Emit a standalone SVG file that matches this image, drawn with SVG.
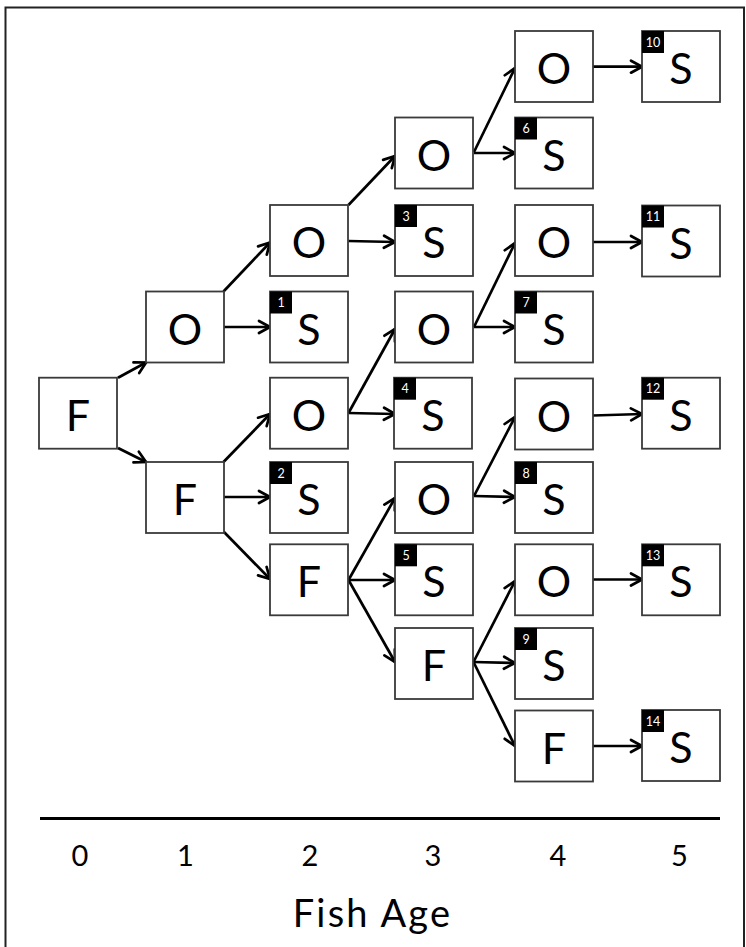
<svg xmlns="http://www.w3.org/2000/svg" width="746" height="947" viewBox="0 0 746 947">
<defs>
<marker id="ah" markerUnits="userSpaceOnUse" viewBox="-14 -8 16 16" markerWidth="16" markerHeight="16" refX="0" refY="0" orient="auto">
<path d="M-11,-6 L0,0 L-11,6" fill="none" stroke="#000" stroke-width="2.7" stroke-linejoin="miter" stroke-linecap="round"/>
</marker>
</defs>
<style>
.box{fill:#fff;stroke:#3a3a3a;stroke-width:1.8}
.lbl{font-family:Lato,"Liberation Sans",sans-serif;font-size:43px;fill:#000;text-anchor:middle}
.bdg{fill:#000}
.num{font-family:Lato,"Liberation Sans",sans-serif;font-size:12.5px;fill:#fff;text-anchor:middle}
.c line{stroke:#000;stroke-width:2.7;marker-end:url(#ah)}
.ax{font-family:Lato,"Liberation Sans",sans-serif;font-size:29px;fill:#000;text-anchor:middle}
</style>
<rect x="0" y="0" width="746" height="947" fill="#fff"/>
<rect x="5.5" y="7.5" width="738.5" height="960" fill="none" stroke="#222" stroke-width="2"/>

<g id="connectors" class="c">
<line x1="118" y1="377.7" x2="146" y2="362.5"/>
<line x1="118" y1="448" x2="146" y2="462"/>
<line x1="223.5" y1="291.5" x2="270" y2="242.5"/>
<line x1="223.5" y1="327" x2="270" y2="327"/>
<line x1="223.5" y1="462" x2="270" y2="414"/>
<line x1="223.5" y1="497" x2="270" y2="497"/>
<line x1="223.5" y1="531.5" x2="270" y2="579"/>
<line x1="348.5" y1="205" x2="395" y2="156"/>
<line x1="348.5" y1="241" x2="395" y2="242"/>
<line x1="348.5" y1="413" x2="395" y2="329"/>
<line x1="348.5" y1="413" x2="395" y2="414"/>
<line x1="348.5" y1="580" x2="395" y2="498"/>
<line x1="348.5" y1="580" x2="395" y2="580"/>
<line x1="348.5" y1="580" x2="395" y2="662"/>
<line x1="474" y1="152" x2="515" y2="68"/>
<line x1="474" y1="153" x2="515" y2="153"/>
<line x1="474" y1="327" x2="515" y2="243"/>
<line x1="474" y1="327" x2="515" y2="327"/>
<line x1="474" y1="496" x2="515" y2="417"/>
<line x1="474" y1="496" x2="515" y2="497"/>
<line x1="473.5" y1="662" x2="515" y2="581"/>
<line x1="473.5" y1="662" x2="515" y2="663"/>
<line x1="473.5" y1="662" x2="515" y2="746"/>
<line x1="593" y1="66.7" x2="642" y2="66.7"/>
<line x1="593" y1="242" x2="642" y2="242"/>
<line x1="593" y1="415.5" x2="642" y2="414"/>
<line x1="593" y1="579.5" x2="642" y2="579.5"/>
<line x1="593" y1="746" x2="642" y2="746"/>
</g>

<g id="n_c0_F" transform="translate(39,377.7)"><rect class="box" width="78" height="71"/><text class="lbl" x="39" y="53">F</text></g>

<g id="n_c1_O" transform="translate(146,291.5)"><rect class="box" width="78" height="71"/><text class="lbl" x="39" y="53">O</text></g>
<g id="n_c1_F" transform="translate(146,462)"><rect class="box" width="78" height="71"/><text class="lbl" x="39" y="53">F</text></g>

<g id="n_c2_O1" transform="translate(270,205)"><rect class="box" width="78" height="71"/><text class="lbl" x="39" y="53">O</text></g>
<g id="n_S1" transform="translate(270,291.5)"><rect class="box" width="78" height="71"/><text class="lbl" x="39" y="53">S</text><rect class="bdg" width="22" height="22"/><text class="num" x="11" y="15.5">1</text></g>
<g id="n_c2_O2" transform="translate(270,377.7)"><rect class="box" width="78" height="71"/><text class="lbl" x="39" y="53">O</text></g>
<g id="n_S2" transform="translate(270,462)"><rect class="box" width="78" height="71"/><text class="lbl" x="39" y="53">S</text><rect class="bdg" width="22" height="22"/><text class="num" x="11" y="15.5">2</text></g>
<g id="n_c2_F" transform="translate(270,544.3)"><rect class="box" width="78" height="71"/><text class="lbl" x="39" y="53">F</text></g>

<g id="n_c3_O1" transform="translate(395,117.5)"><rect class="box" width="78" height="71"/><text class="lbl" x="39" y="53">O</text></g>
<g id="n_S3" transform="translate(395,205)"><rect class="box" width="78" height="71"/><text class="lbl" x="39" y="53">S</text><rect class="bdg" width="22" height="22"/><text class="num" x="11" y="15.5">3</text></g>
<g id="n_c3_O2" transform="translate(395,291.5)"><rect class="box" width="78" height="71"/><text class="lbl" x="39" y="53">O</text></g>
<g id="n_S4" transform="translate(394,377.7)"><rect class="box" width="78" height="71"/><text class="lbl" x="39" y="53">S</text><rect class="bdg" width="22" height="22"/><text class="num" x="11" y="15.5">4</text></g>
<g id="n_c3_O3" transform="translate(395,462)"><rect class="box" width="78" height="71"/><text class="lbl" x="39" y="53">O</text></g>
<g id="n_S5" transform="translate(395,544.3)"><rect class="box" width="78" height="71"/><text class="lbl" x="39" y="53">S</text><rect class="bdg" width="22" height="22"/><text class="num" x="11" y="15.5">5</text></g>
<g id="n_c3_F" transform="translate(395,628)"><rect class="box" width="78" height="71"/><text class="lbl" x="39" y="53">F</text></g>

<g id="n_c4_O1" transform="translate(515,31)"><rect class="box" width="78" height="71"/><text class="lbl" x="39" y="53">O</text></g>
<g id="n_S6" transform="translate(515,117.5)"><rect class="box" width="78" height="71"/><text class="lbl" x="39" y="53">S</text><rect class="bdg" width="22" height="22"/><text class="num" x="11" y="15.5">6</text></g>
<g id="n_c4_O2" transform="translate(515,205)"><rect class="box" width="78" height="71"/><text class="lbl" x="39" y="53">O</text></g>
<g id="n_S7" transform="translate(515,291.5)"><rect class="box" width="78" height="71"/><text class="lbl" x="39" y="53">S</text><rect class="bdg" width="22" height="22"/><text class="num" x="11" y="15.5">7</text></g>
<g id="n_c4_O3" transform="translate(515,378.5)"><rect class="box" width="78" height="71"/><text class="lbl" x="39" y="53">O</text></g>
<g id="n_S8" transform="translate(515,462)"><rect class="box" width="78" height="71"/><text class="lbl" x="39" y="53">S</text><rect class="bdg" width="22" height="22"/><text class="num" x="11" y="15.5">8</text></g>
<g id="n_c4_O4" transform="translate(515,544.3)"><rect class="box" width="78" height="71"/><text class="lbl" x="39" y="53">O</text></g>
<g id="n_S9" transform="translate(515,628)"><rect class="box" width="78" height="71"/><text class="lbl" x="39" y="53">S</text><rect class="bdg" width="22" height="22"/><text class="num" x="11" y="15.5">9</text></g>
<g id="n_c4_F" transform="translate(515,710.5)"><rect class="box" width="78" height="71"/><text class="lbl" x="39" y="53">F</text></g>

<g id="n_S10" transform="translate(642,31)"><rect class="box" width="78" height="71"/><text class="lbl" x="39" y="53">S</text><rect class="bdg" width="22" height="22"/><text class="num" x="11" y="15.5">10</text></g>
<g id="n_S11" transform="translate(642,205.5)"><rect class="box" width="78" height="71"/><text class="lbl" x="39" y="53">S</text><rect class="bdg" width="22" height="22"/><text class="num" x="11" y="15.5">11</text></g>
<g id="n_S12" transform="translate(642,377.7)"><rect class="box" width="78" height="71"/><text class="lbl" x="39" y="53">S</text><rect class="bdg" width="22" height="22"/><text class="num" x="11" y="15.5">12</text></g>
<g id="n_S13" transform="translate(642,544.3)"><rect class="box" width="78" height="71"/><text class="lbl" x="39" y="53">S</text><rect class="bdg" width="22" height="22"/><text class="num" x="11" y="15.5">13</text></g>
<g id="n_S14" transform="translate(642,710)"><rect class="box" width="78" height="71"/><text class="lbl" x="39" y="53">S</text><rect class="bdg" width="22" height="22"/><text class="num" x="11" y="15.5">14</text></g>

<g id="axis">
<line x1="40" y1="818.5" x2="720" y2="818.5" stroke="#000" stroke-width="3"/>
<text class="ax" x="80" y="866">0</text>
<text class="ax" x="185.5" y="866">1</text>
<text class="ax" x="310" y="866">2</text>
<text class="ax" x="433" y="866">3</text>
<text class="ax" x="558" y="866">4</text>
<text class="ax" x="679.5" y="866">5</text>
<text x="372.5" y="927" font-family="Lato, 'Liberation Sans', sans-serif" font-size="38" letter-spacing="2.2" text-anchor="middle" fill="#000">Fish Age</text>
</g>
</svg>
